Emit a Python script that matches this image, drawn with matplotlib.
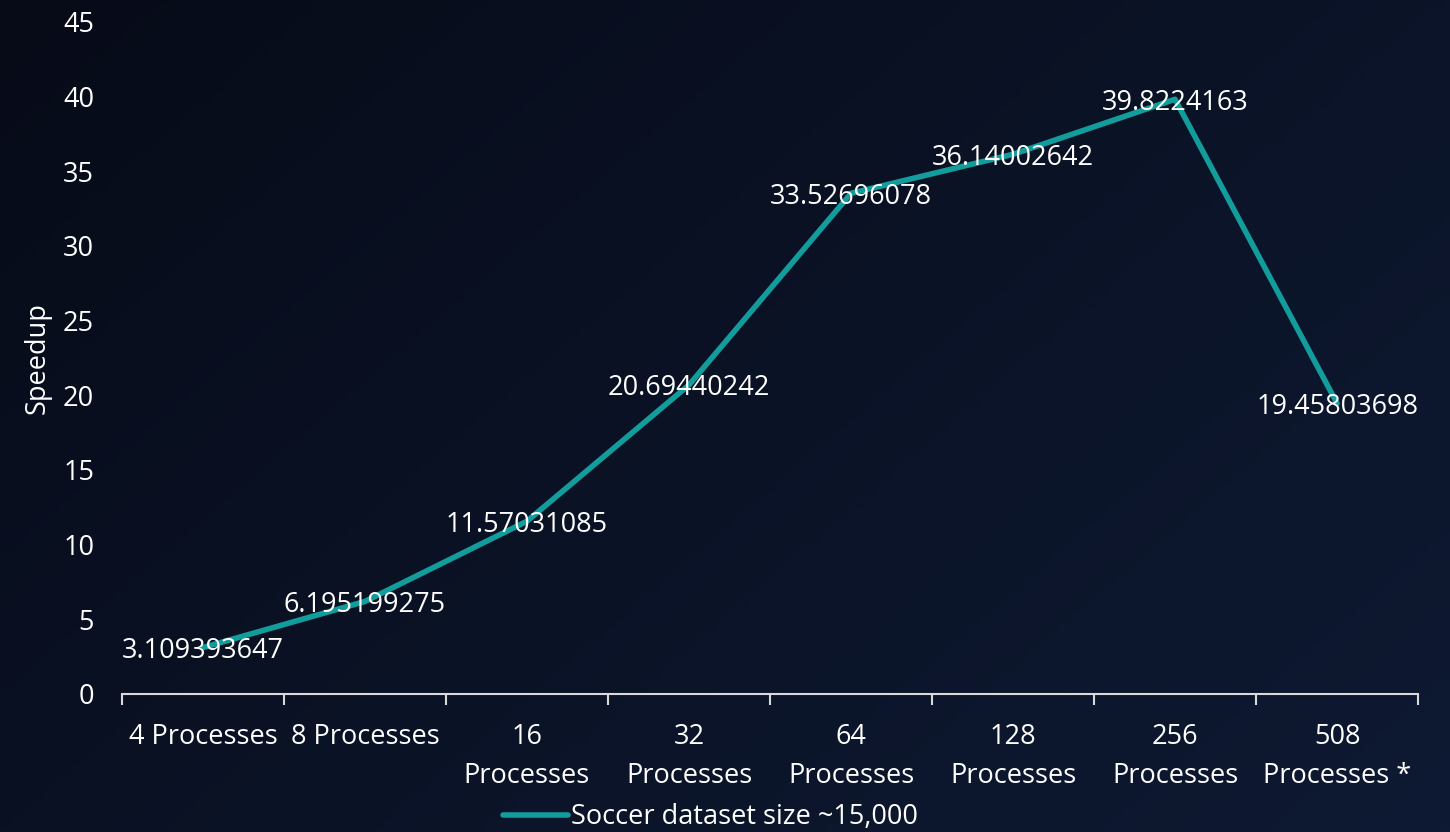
import numpy as np
import matplotlib
matplotlib.use("Agg")
import matplotlib.pyplot as plt

categories = ["4 Processes", "8 Processes", "16\nProcesses", "32\nProcesses",
              "64\nProcesses", "128\nProcesses", "256\nProcesses", "508\nProcesses *"]
speedup = [3.109393647, 6.195199275, 11.57031085, 20.69440242,
           33.52696078, 36.14002642, 39.8224163, 19.45803698]
value_labels = ["3.109393647", "6.195199275", "11.57031085", "20.69440242",
                "33.52696078", "36.14002642", "39.8224163", "19.45803698"]
series_name = "Soccer dataset size ~15,000"

LINE_COLOR = "#129c9c"
TEXT_COLOR = "white"
FS = 19.5

plt.rcParams["font.family"] = ["Open Sans", "DejaVu Sans"]

fig = plt.figure(figsize=(14.5, 8.32), dpi=100)

# dark navy gradient behind everything
bg = fig.add_axes([0, 0, 1, 1], zorder=-10)
yy, xx = np.mgrid[0:1:200j, 0:1:200j]
t = (xx * 0.6 + yy * 0.4)
c0 = np.array([0x07, 0x0b, 0x18]) / 255
c1 = np.array([0x0e, 0x1a, 0x33]) / 255
img = c0[None, None, :] * (1 - t[..., None]) + c1[None, None, :] * t[..., None]
bg.imshow(img, aspect="auto", extent=[0, 1, 0, 1], origin="upper")
bg.axis("off")

ax = fig.add_axes([0.0841, 0.1659, 0.8939, 0.8077])
ax.patch.set_alpha(0)

x = np.arange(len(categories))
ax.plot(x, speedup, color=LINE_COLOR, lw=4, solid_capstyle="round",
        solid_joinstyle="round", label=series_name)
for xi, yi, lab in zip(x, speedup, value_labels):
    ax.text(xi, yi, lab, color=TEXT_COLOR, fontsize=FS, ha="center",
            va="center_baseline")

ax.set_xlim(-0.5, len(categories) - 0.5)
ax.set_ylim(0, 45)
ax.set_yticks(np.arange(0, 46, 5))
ax.set_xticks(x)
ax.set_xticklabels(categories, va="top", linespacing=1.5)
ax.set_xticks(np.arange(-0.5, len(categories), 1), minor=True)
ax.tick_params(axis="x", which="major", length=0, pad=21, labelsize=FS,
               labelcolor=TEXT_COLOR)
ax.tick_params(axis="x", which="minor", length=8, width=1.5, color="#d9d9d9",
               direction="out")
ax.tick_params(axis="y", length=0, pad=20, labelsize=FS, labelcolor=TEXT_COLOR)

for side in ["left", "right", "top"]:
    ax.spines[side].set_visible(False)
ax.spines["bottom"].set_color("#d9d9d9")
ax.spines["bottom"].set_linewidth(1.5)

ax.set_ylabel("Speedup", color=TEXT_COLOR, fontsize=FS, labelpad=8)

leg = fig.legend(loc="center", bbox_to_anchor=(0.49, 0.018), frameon=False,
                 fontsize=FS, handlelength=2.4, handletextpad=0.1)
for txt in leg.get_texts():
    txt.set_color(TEXT_COLOR)

fig.savefig("out.png", dpi=100)
